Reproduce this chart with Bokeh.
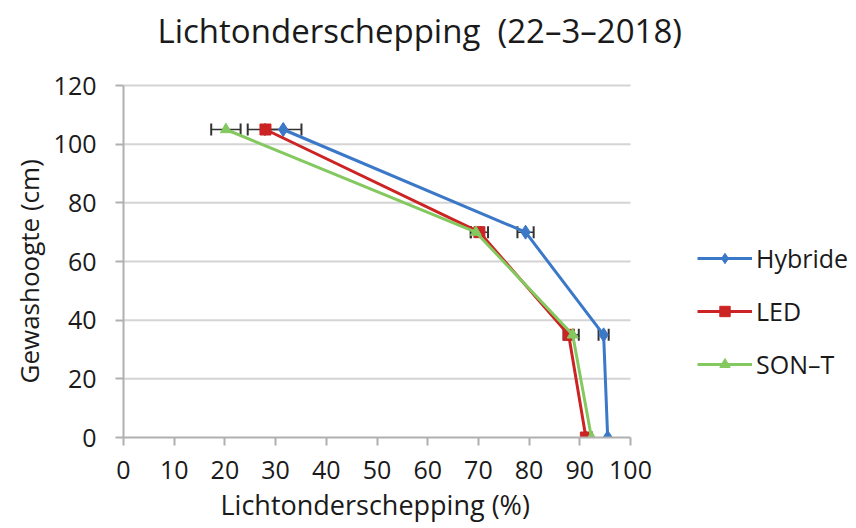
from bokeh.plotting import figure
from bokeh.models import ColumnDataSource, Whisker, TeeHead, Legend, LegendItem, FixedTicker, Title, Label
from bokeh.embed import file_html
from bokeh.resources import INLINE

heights = [105, 70, 35, 0]
hybride = [31.5, 79.3, 94.7, 95.5]
hybride_err = [3.6, 1.6, 1.0, 0.0]
led = [28.0, 70.2, 87.8, 91.2]
led_err = [3.5, 1.7, 1.0, 0.0]
sont = [20.2, 69.5, 88.6, 92.3]
sont_err = [2.9, 1.0, 1.2, 0.0]

x_ticks = list(range(0, 101, 10))
y_ticks = list(range(0, 121, 20))

FONT = "Open Sans"
TXT = "#1a1a1a"

FIG_W, FIG_H = 848, 528
LEFT, BOTTOM = 123, 91
DATA_TOP = 85          # pixel row of y = 120
DATA_RIGHT = 630       # pixel column of x = 100

# The frame extends to the top and right edges, so that the title and the legend
# (which lie outside the data area) are drawn inside it and not clipped;
# the axes and the gridlines are bounded to the data area.
frame_h = FIG_H - BOTTOM
frame_w = FIG_W - LEFT
y_end = y_ticks[-1] * frame_h / (frame_h - DATA_TOP)
x_end = x_ticks[-1] * frame_w / (DATA_RIGHT - LEFT)

p = figure(width=FIG_W, height=FIG_H, x_range=(0, x_end), y_range=(0, y_end),
           output_backend="svg", toolbar_location=None,
           min_border_left=LEFT, min_border_right=0, min_border_top=0, min_border_bottom=BOTTOM)
p.outline_line_color = None
p.background_fill_color = "white"

title = Label(x=34, y=frame_h - 30, x_units="screen", y_units="screen",
              text="Lichtonderschepping\u00a0\u00a0(22\u20133\u20132018)",
              text_font=FONT, text_font_size="33px", text_color=TXT,
              text_align="left", text_baseline="middle")
p.add_layout(title)

p.xaxis.ticker = FixedTicker(ticks=x_ticks)
p.yaxis.ticker = FixedTicker(ticks=y_ticks)
p.xaxis.bounds = (x_ticks[0], x_ticks[-1])
p.yaxis.bounds = (y_ticks[0], y_ticks[-1])
for ax in (p.xaxis[0], p.yaxis[0]):
    ax.major_label_text_font = FONT
    ax.major_label_text_font_size = "25px"
    ax.major_label_text_color = TXT
    ax.axis_line_color = "#b0b0b0"
    ax.axis_line_width = 2
    ax.major_tick_line_color = "#b0b0b0"
    ax.major_tick_line_width = 2
    ax.major_tick_out = 8
    ax.major_tick_in = 0
    ax.minor_tick_line_color = None
p.xaxis.major_label_standoff = 15
p.yaxis.major_label_standoff = 19

# axis labels, centred along the data area of each axis
xlabel = Title(text="Lichtonderschepping (%)", align="left", offset=97,
               text_font=FONT, text_font_size="27px", text_font_style="normal",
               text_color=TXT, standoff=4)
p.add_layout(xlabel, "below")
ylabel = Title(text="Gewashoogte (cm)", align="left", offset=54,
               text_font=FONT, text_font_size="26px", text_font_style="normal",
               text_color=TXT, standoff=8)
p.add_layout(ylabel, "left")

p.xgrid.grid_line_color = None
p.ygrid.grid_line_color = None

# horizontal gridlines over the 0..100 data width only
grid_src = ColumnDataSource(dict(x0=[x_ticks[0]] * (len(y_ticks) - 1),
                                 x1=[x_ticks[-1]] * (len(y_ticks) - 1),
                                 y=y_ticks[1:]))
p.segment(x0="x0", y0="y", x1="x1", y1="y", source=grid_src,
          line_color="#d4d4d4", line_width=2, level="underlay")

series = [
    ("Hybride", hybride, hybride_err, "#3b78c8", "diamond", 14),
    ("LED", led, led_err, "#cc2424", "square", 11),
    ("SON\u2013T", sont, sont_err, "#84c860", "triangle", 11),
]

for name, xs, errs, color, marker, size in series:
    src = ColumnDataSource(dict(x=xs, y=heights,
                                lo=[a - e for a, e in zip(xs, errs)],
                                hi=[a + e for a, e in zip(xs, errs)]))
    w = Whisker(source=src, base="y", lower="lo", upper="hi", dimension="width",
                line_color="#333333", line_width=1.5,
                lower_head=TeeHead(size=12, line_color="#333333", line_width=2),
                upper_head=TeeHead(size=12, line_color="#333333", line_width=2))
    p.add_layout(w)

items = []
for name, xs, errs, color, marker, size in series:
    src = ColumnDataSource(dict(x=xs, y=heights))
    l = p.line("x", "y", source=src, line_color=color, line_width=3)
    m = p.scatter("x", "y", source=src, marker=marker, size=size,
                  fill_color=color, line_color=color)
    items.append(LegendItem(label=name, renderers=[l, m]))

legend = Legend(items=items, location=(574, 56), orientation="vertical",
                label_text_font=FONT, label_text_font_size="25px",
                label_text_color=TXT, glyph_width=55, glyph_height=26,
                label_standoff=4, spacing=19, border_line_color=None,
                background_fill_alpha=0, padding=0, margin=0)
p.add_layout(legend, "center")

open("out.html", "w").write(file_html(p, INLINE))
